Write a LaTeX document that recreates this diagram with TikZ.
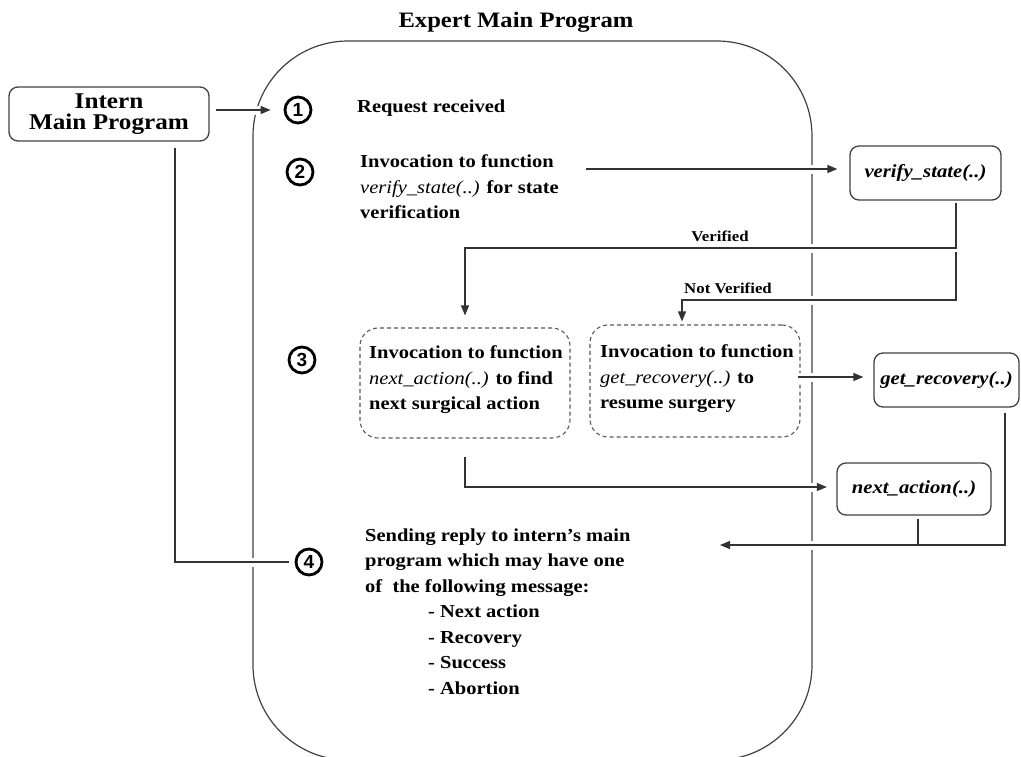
\documentclass[tikz,border=0pt]{standalone}
\usepackage{fontspec}
\setmainfont{Liberation Serif}[FakeStretch=1.12]
\newfontfamily\digitfont{Liberation Sans}
\usetikzlibrary{arrows.meta,calc}
\begin{document}
\begin{tikzpicture}[x=1pt,y=-1pt,
  line/.style={draw=black!80, line width=1.3pt},
  conn/.style={line, preaction={draw=white, line width=9pt, -}},
  arr/.style={-{Triangle[length=10pt,width=8pt]}},
  fbox/.style={draw=black!75, line width=1.3pt, rounded corners=9pt, inner sep=0pt,
    font=\fontsize{18.5}{22}\selectfont\bfseries\itshape},
  dbox/.style={draw=black!65, line width=1.1pt, dash pattern=on 4pt off 3pt, rounded corners=18pt},
  num/.style={circle, draw=black, line width=2.8pt, minimum size=26pt, inner sep=0pt,
    font=\digitfont\fontsize{19}{19}\selectfont\bfseries},
  txt/.style={anchor=north west, inner sep=0pt, align=left, font=\fontsize{18.3}{25.5}\selectfont\bfseries},
  lbl/.style={inner sep=0pt, font=\fontsize{15}{15}\selectfont\bfseries},
]
\useasboundingbox (0,0) rectangle (1021,756);

% big container
\draw[line width=1.2pt, draw=black!75, rounded corners=95pt] (253,41) rectangle (812,760);
\node[font=\fontsize{22}{22}\selectfont\bfseries, inner sep=0pt, anchor=base] (title) at (516,27) {Expert Main Program};

% boxes
\node[draw=black!75, line width=1.3pt, rounded corners=9pt, minimum width=200pt, minimum height=54pt,
  inner sep=0pt, align=center, font=\fontsize{22.5}{20.5}\selectfont\bfseries] (intern) at (109,114) {Intern\\Main Program};
\node[fbox, minimum width=151pt, minimum height=54pt] (vs) at (925.5,173) {verify\_state(..)};
\node[fbox, minimum width=145pt, minimum height=54pt] (gr) at (946.5,380) {get\_recovery(..)};
\node[fbox, minimum width=154pt, minimum height=52pt] (nx) at (914,489) {next\_action(..)};
\node[dbox, minimum width=210pt, minimum height=110pt] (nabox) at (465,383) {};
\node[dbox, minimum width=210pt, minimum height=112pt] (grbox) at (695,381) {};

% step numbers
\node[num] (c1) at (298,110) {1};
\node[num] (c2) at (300,172) {2};
\node[num] (c3) at (302,360) {3};
\node[num] (c4) at (309,562) {4};

% texts
\node[txt] (t1) at (357,100) {Request received};
\node[txt] (t2) at (360,154.5) {Invocation to function\\\textit{\mdseries verify\_state(..)} for state\\verification};
\node[txt] (t3a) at (369,345.5) {Invocation to function\\\textit{\mdseries next\_action(..)} to find\\next surgical action};
\node[txt] (t3b) at (600,344.5) {Invocation to function\\\textit{\mdseries get\_recovery(..)} to\\resume surgery};
\node[txt] (t4) at (365,528.5) {Sending reply to intern's main\\program which may have one\\of\ \ the following message:\\\hspace*{63pt}- Next action\\\hspace*{63pt}- Recovery\\\hspace*{63pt}- Success\\\hspace*{63pt}- Abortion};

% coordinates
\coordinate (a2) at (586,169);
\coordinate (v1) at (956,248);
\coordinate (v1b) at (956,252);
\coordinate (v2) at (956,300);
\coordinate (ret) at (720,545);
\coordinate (a6) at ($(grbox.east)+(-3,-4)$);
\coordinate (nxb) at ($(nx.south)+(4,3)$);

% connectors
\draw[conn,arr] ($(intern.east |- c1)+(6,0)$) -- ([xshift=-13pt]c1.west);
\draw[conn] ($(intern.south)+(66,6)$) |- (c4.west) [shorten >=6pt];
\draw[conn,arr,shorten >=12pt] (a2) -- (a2 -| vs.west);
\draw[conn,arr] ($(vs.south)+(30.5,2)$) -- (v1) -| ([yshift=12pt]nabox.north);
\draw[conn,arr] (v1b) -- (v2) -| ([xshift=-13pt,yshift=3pt]grbox.north);
\draw[conn,arr,shorten >=10pt] (a6) -- (a6 -| gr.west);
\draw[conn,arr] ($(nabox.south)+(0,18)$) |- ($(nx.west)+(-9.5,-2)$);
\draw[conn,arr] ($(gr.south)+(58.5,5.5)$) |- (ret);
\draw[line] (nxb) -- (nxb |- ret);

% labels
\node[lbl] (lv) at (720,236) {Verified};
\node[lbl] (lnv) at (728,288) {Not Verified};
\end{tikzpicture}
\end{document}
